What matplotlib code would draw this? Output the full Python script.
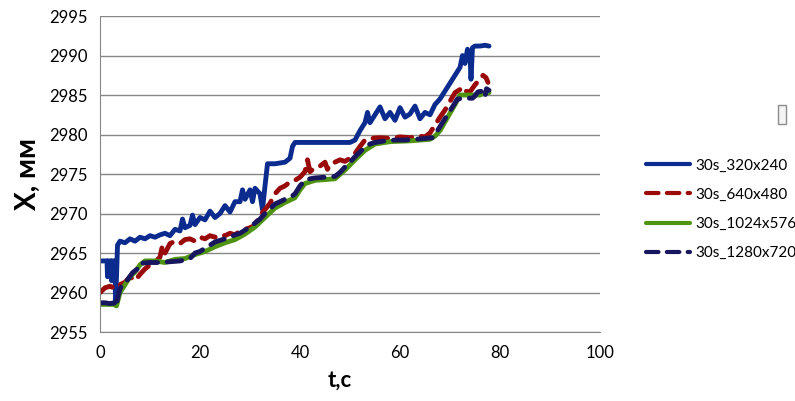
import matplotlib
import numpy as np

from matplotlib import pyplot as plt
from matplotlib.patches import Rectangle

matplotlib.use('agg')

plt.rcParams['font.family'] = ['Lato', 'DejaVu Sans']

# (t, X) samples
s320 = [(0, 2964), (1.4, 2964), (1.5, 2962), (1.6, 2964), (2.2, 2964), (2.3, 2961.5),
        (2.4, 2964), (3.0, 2964), (3.1, 2958.5), (3.3, 2962), (3.5, 2966), (4, 2966.5),
        (5, 2966.3), (6, 2966.8), (7, 2966.5), (8, 2967), (9, 2966.8), (10, 2967.2),
        (11, 2967), (12, 2967.3), (13, 2967.5), (14, 2967.2), (15, 2968), (16, 2967.8),
        (16.5, 2969.3), (17, 2968.2), (18, 2968.5), (18.5, 2969.8), (19, 2968.6),
        (20, 2969.5), (21, 2969.2), (22, 2970.3), (23, 2969.5), (24, 2970), (25, 2971),
        (26, 2970.2), (27, 2971.5), (28, 2971.5), (28.5, 2973), (29, 2971.8), (30, 2973),
        (30.5, 2971.5), (31, 2973.2), (32, 2972.5), (32.5, 2970.5), (33, 2973.5),
        (33.5, 2976.3), (35, 2976.3), (37, 2976.5), (38, 2977), (38.5, 2978.5), (39, 2979),
        (42, 2979), (46, 2979), (50, 2979), (51, 2979.3), (52, 2980.5), (53, 2981.5),
        (53.5, 2982.8), (54, 2981.5), (55, 2982.5), (56, 2983.5), (57, 2982), (58, 2982.8),
        (59, 2981.8), (60, 2983.4), (61, 2982.2), (62, 2982.6), (63, 2983.6), (64, 2982),
        (65, 2982.8), (66, 2982.5), (67, 2983.8), (68, 2984.5), (69, 2985.5), (70, 2986.5),
        (71, 2987.5), (72, 2988.5), (72.5, 2990), (73, 2989), (73.5, 2990.8), (74, 2990.2),
        (74.2, 2987), (74.5, 2991), (75, 2991.2), (76, 2991.2), (77, 2991.3), (77.8, 2991.2)]

s640 = [(0, 2960), (0.5, 2960.3), (1, 2960.6), (2, 2960.8), (3, 2960.5), (4, 2961),
        (5, 2961.3), (6, 2962), (7, 2961.5), (8, 2962.3), (9, 2963), (10, 2963.5),
        (11, 2963.8), (12, 2964.5), (12.5, 2966), (13, 2965), (14, 2966.2), (15, 2966.5),
        (16, 2966.2), (17, 2966.7), (18, 2966.8), (19, 2966.5), (20, 2967), (21, 2966.8),
        (22, 2967.2), (23, 2967), (24, 2967.3), (25, 2967.2), (26, 2967.5), (27, 2967.3),
        (28, 2967.8), (29, 2968), (30, 2968.2), (31, 2968.5), (32, 2969.8), (33, 2970.5),
        (34, 2971.3), (35, 2972.5), (36, 2973.2), (37, 2973.5), (38, 2974), (39, 2974.2),
        (40, 2974.6), (41, 2975.3), (41.5, 2976.8), (42, 2975.3), (43, 2975.8), (44, 2976),
        (45, 2976.5), (45.5, 2975.6), (46, 2976.2), (47, 2976.5), (48, 2976.8),
        (49, 2976.6), (50, 2977), (51, 2977.6), (52, 2978.5), (53, 2979.3), (54, 2979.5),
        (56, 2979.6), (58, 2979.5), (60, 2979.7), (62, 2979.6), (64, 2979.8), (65, 2979.7),
        (66, 2980.2), (67, 2981.2), (68, 2982.2), (69, 2983.1), (70, 2984.2), (71, 2985.3),
        (72, 2985.7), (72.5, 2986), (73, 2985.5), (74, 2985.4), (75, 2986.3), (76, 2987),
        (76.6, 2987.5), (77.2, 2987.2), (77.6, 2986.6)]

s1024 = [(0, 2958.5), (2.8, 2958.5), (3.3, 2958.3), (4, 2960), (5, 2961), (6, 2962),
         (7, 2962.6), (8, 2963.5), (9, 2964), (11, 2964), (13, 2963.8), (15, 2964.2),
         (17, 2964.3), (19, 2964.8), (21, 2965.2), (23, 2965.8), (25, 2966.3), (27, 2966.7),
         (29, 2967.4), (31, 2968.3), (33, 2969.5), (35, 2970.7), (37, 2971.4), (39, 2972),
         (40, 2973), (41, 2973.8), (43, 2974.2), (45, 2974.3), (47, 2974.4), (49, 2975.5),
         (51, 2976.8), (53, 2978), (55, 2978.8), (58, 2979.1), (62, 2979.2), (66, 2979.4),
         (67, 2979.8), (68, 2980.5), (69, 2981.6), (70, 2982.7), (71, 2983.8), (72, 2985),
         (74, 2985), (76, 2985), (77, 2985.3), (77.8, 2985.3)]

s1280 = [(0, 2958.7), (1, 2958.7), (2, 2958.6), (2.8, 2958.7), (3.2, 2958.2), (3.6, 2959.5),
         (4, 2960.5), (4.7, 2961.2), (5.5, 2961.6), (6.5, 2962.5), (7.5, 2963), (8, 2963.7),
         (10, 2963.8), (12, 2963.8), (14, 2963.9), (16, 2964), (18, 2964.3), (19, 2965),
         (20, 2965.2), (21, 2965.6), (22, 2966), (23, 2966.4), (24, 2966.6), (25, 2966.8),
         (26, 2967), (27, 2967.3), (28, 2967.5), (29, 2967.9), (30, 2968.3), (31, 2968.8),
         (32, 2969.3), (33, 2970), (34, 2970.6), (35, 2971.2), (36, 2971.5), (37, 2971.8),
         (38, 2972), (39, 2972.5), (40, 2973.5), (41, 2974.2), (42, 2974.4), (43, 2974.5),
         (45, 2974.6), (47, 2974.7), (48, 2975.2), (49, 2975.9), (50, 2976.5), (51, 2977.2),
         (52, 2977.8), (53, 2978.4), (54, 2978.8), (55, 2979), (57, 2979.2), (59, 2979.3),
         (61, 2979.3), (63, 2979.4), (65, 2979.5), (66.5, 2979.6), (67.5, 2980.5),
         (68.5, 2981.5), (69.5, 2982.5), (70.5, 2983.5), (71.5, 2984.5), (73, 2984.6),
         (74.5, 2984.6), (75, 2984.9), (75.6, 2985.4), (76.5, 2985.5), (77, 2984.8),
         (77.3, 2985.8), (77.8, 2985.6)]

labels = ["30s_320x240", "30s_640x480", "30s_1024x576", "30s_1280x720"]
colors = ["#0B2C8E", "#9A0A0A", "#4E9410", "#18165E"]
styles = ["-", (0, (3, 2)), "-", (0, (3, 2))]
x_ticks = [0, 20, 40, 60, 80, 100]
y_ticks = [2955, 2960, 2965, 2970, 2975, 2980, 2985, 2990, 2995]

fig = plt.figure(figsize=(7.95, 4.01), dpi=100)
ax = fig.add_axes([0.1258, 0.172, 0.6289, 0.788])

for data, label, color, ls in zip([s320, s640, s1024, s1280], labels, colors, styles):
    t, x = np.array(data).T
    ax.plot(t, x, color=color, lw=3.5, ls=ls, label=label,
            solid_capstyle='round', dash_capstyle='round')

ax.set_xlim(0, 100)
ax.set_ylim(2955, 2995)
ax.set_xticks(x_ticks)
ax.set_yticks(y_ticks)
ax.tick_params(length=0, labelsize=12, pad=9)
ax.grid(axis='y', color='#868686', lw=1)
ax.set_axisbelow(True)
for side in ['top', 'right']:
    ax.spines[side].set_visible(False)
for side in ['left', 'bottom']:
    ax.spines[side].set_color('#868686')
ax.set_xlabel("t,с", fontsize=16, fontweight='bold', labelpad=8)
ax.xaxis.set_label_coords(0.48, -0.12)
ax.set_ylabel("Х, мм", fontsize=20, fontweight='bold', labelpad=6)

leg = ax.legend(loc='center left', bbox_to_anchor=(0.803, 0.478),
                bbox_transform=fig.transFigure, frameon=False, fontsize=11,
                handlelength=2.9, handletextpad=0.3, labelspacing=1.0, borderpad=0)
for line in leg.get_lines():
    line.set_linewidth(3)

fig.patches.append(Rectangle((0.978, 0.69), 0.011, 0.048, transform=fig.transFigure,
                             facecolor='#F4F4F4', edgecolor='#8C8C8C', lw=1))

fig.savefig("out.png", dpi=100)
plt.close(fig)
